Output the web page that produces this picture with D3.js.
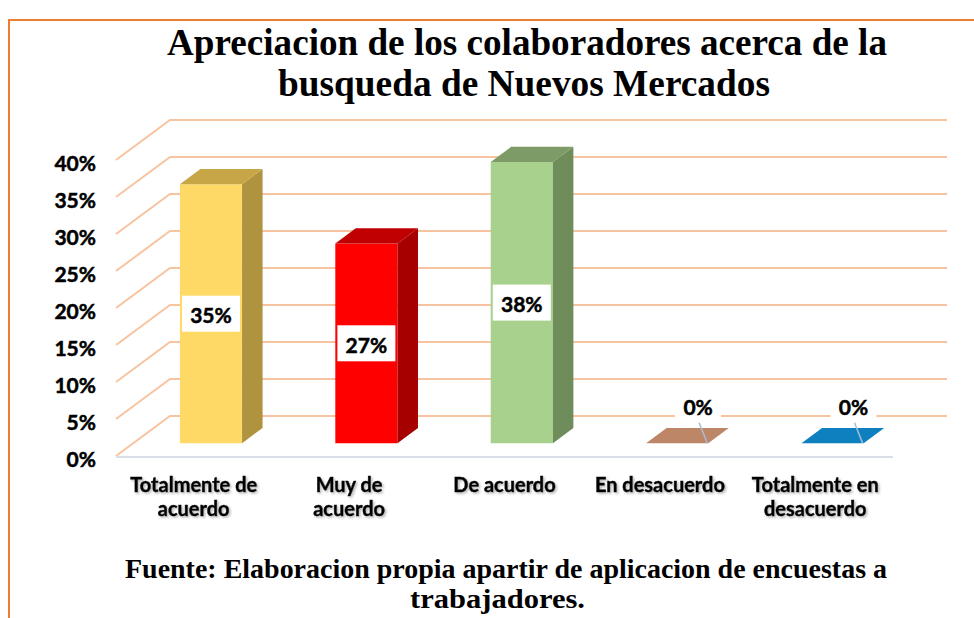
<!DOCTYPE html>
<html>
<head>
<meta charset="utf-8">
<script src="https://cdn.jsdelivr.net/npm/d3@7"></script>
<style>
  html, body { margin: 0; padding: 0; background: #fff; }
  svg { display: block; }
  .heavy { font-family: Lato, 'Open Sans', sans-serif; font-weight: bold; stroke: #000; stroke-width: 0.5px; }
</style>
</head>
<body>
<div id="chart"></div>
<script>
// data
const categories = ["Totalmente de acuerdo", "Muy de acuerdo", "De acuerdo", "En desacuerdo", "Totalmente en desacuerdo"];
const categoryLines = [["Totalmente de", "acuerdo"], ["Muy de", "acuerdo"], ["De acuerdo"], ["En desacuerdo"], ["Totalmente en", "desacuerdo"]];
const values = [0.35, 0.27, 0.38, 0, 0];
const yTicks = [0, 0.05, 0.10, 0.15, 0.20, 0.25, 0.30, 0.35, 0.40];

// front / side / top colours per bar
const barColors = [
    { front: "#FFD966", side: "#B0933F", top: "#C6A647" },
    { front: "#FF0000", side: "#A60000", top: "#C00000" },
    { front: "#A9D18E", side: "#6F8C5B", top: "#7C9B66" },
    { front: "#BD8667", side: "#8F6048", top: "#BD8667" },
    { front: "#0E80BF", side: "#0B5E8C", top: "#0E80BF" }
];

const width = 974, height = 618;
const DX = 54, DY = 40;      // depth offset of the back wall
const d0 = 0.32, d1 = 0.70;  // bar depth span

const svg = d3.select("#chart").append("svg")
    .attr("width", width)
    .attr("height", height);

const defs = svg.append("defs");
defs.append("filter").attr("id", "shadow")
    .attr("x", "-10%").attr("y", "-30%").attr("width", "130%").attr("height", "160%")
    .append("feDropShadow")
    .attr("dx", 1.5).attr("dy", 1.5).attr("stdDeviation", 1.2)
    .attr("flood-color", "#777").attr("flood-opacity", 0.55);

// frame
svg.append("rect")
    .attr("x", 9).attr("y", 20)
    .attr("width", 1000).attr("height", 700)
    .attr("fill", "none")
    .attr("stroke", "#ED7D31")
    .attr("stroke-width", 2);

// title
const title = svg.append("g")
    .style("font-family", "'Liberation Serif', 'Times New Roman', serif")
    .style("font-weight", "bold")
    .style("font-size", "37px")
    .attr("fill", "#000");
title.append("text").attr("x", 167).attr("y", 55)
    .attr("textLength", 720).attr("lengthAdjust", "spacingAndGlyphs")
    .text("Apreciacion de los colaboradores acerca de la");
title.append("text").attr("x", 278).attr("y", 96)
    .attr("textLength", 492).attr("lengthAdjust", "spacingAndGlyphs")
    .text("busqueda de Nuevos Mercados");

const x = d3.scaleBand()
    .domain(categories)
    .range([116, 893])
    .paddingInner(0.6)
    .paddingOuter(0.3);

const y = d3.scaleLinear()
    .domain([0, 0.40])
    .range([456, 160]);

const proj = (px, v, d) => [px + d * DX, y(v) - d * DY];
const poly = pts => "M" + pts.map(p => p.join(",")).join("L") + "Z";

// gridlines: diagonal on the left wall, then across the back wall
svg.append("g")
    .selectAll("path")
    .data(yTicks)
    .join("path")
    .attr("d", t => {
        const a = proj(116, t, 0), b = proj(116, t, 1), c = proj(893, t, 1);
        return "M" + a + "L" + b + "L" + c;
    })
    .attr("fill", "none")
    .attr("stroke", "#F8C3A0")
    .attr("stroke-width", 2);

// floor front edge
svg.append("line")
    .attr("x1", 116).attr("x2", 893)
    .attr("y1", y(0) + 1).attr("y2", y(0) + 1)
    .attr("stroke", "#D9DEE8")
    .attr("stroke-width", 2);

// y labels
svg.append("g")
    .selectAll("text")
    .data(yTicks)
    .join("text")
    .attr("class", "heavy")
    .attr("x", 96)
    .attr("y", t => y(t) + 2)
    .attr("text-anchor", "end")
    .attr("dominant-baseline", "central")
    .style("font-size", "21px")
    .text(t => Math.round(t * 100) + "%");

// bars
const bars = svg.append("g")
    .selectAll("g")
    .data(values.map((v, i) => ({ cat: categories[i], v, c: barColors[i] })))
    .join("g");

bars.each(function (d) {
    const g = d3.select(this);
    const x0 = x(d.cat), x1 = x(d.cat) + x.bandwidth();
    if (d.v > 0) {
        g.append("path")
            .attr("d", poly([proj(x0, 0, d0), proj(x0, d.v, d0), proj(x1, d.v, d0), proj(x1, 0, d0)]))
            .attr("fill", d.c.front);
        g.append("path")
            .attr("d", poly([proj(x1, 0, d0), proj(x1, d.v, d0), proj(x1, d.v, d1), proj(x1, 0, d1)]))
            .attr("fill", d.c.side);
    }
    g.append("path")
        .attr("d", poly([proj(x0, d.v, d0), proj(x1, d.v, d0), proj(x1, d.v, d1), proj(x0, d.v, d1)]))
        .attr("fill", d.c.top);
});

// data labels
bars.each(function (d) {
    const g = d3.select(this);
    const x0 = x(d.cat), x1 = x(d.cat) + x.bandwidth();
    const label = Math.round(d.v * 100) + "%";
    let cx, cy, w, h;
    if (d.v > 0) {
        const p = proj((x0 + x1) / 2, d.v / 2, d0);
        cx = p[0]; cy = p[1]; w = 58; h = 36;
    } else {
        const p = proj(x0, 0, d0);
        cx = p[0] + 52; cy = p[1] - 38; w = 46; h = 25;
        const q = proj(x1, 0, d0);
        g.append("line")
            .attr("x1", cx + 1).attr("y1", cy + h / 2 + 5)
            .attr("x2", q[0] - 1).attr("y2", q[1])
            .attr("stroke", "#A6BDD7")
            .attr("stroke-width", 1.5);
    }
    g.append("rect")
        .attr("x", cx - w / 2).attr("y", cy - h / 2)
        .attr("width", w).attr("height", h)
        .attr("fill", "#fff");
    g.append("text")
        .attr("class", "heavy")
        .attr("x", cx).attr("y", cy + 1)
        .attr("text-anchor", "middle")
        .attr("dominant-baseline", "central")
        .style("font-size", "21px")
        .text(label);
});

// category labels
svg.append("g")
    .attr("filter", "url(#shadow)")
    .selectAll("text")
    .data(categories)
    .join("text")
    .attr("class", "heavy")
    .attr("x", c => x(c) + x.bandwidth() / 2)
    .attr("y", 492)
    .attr("text-anchor", "middle")
    .style("font-size", "20px")
    .each(function (c, i) {
        d3.select(this).selectAll("tspan")
            .data(categoryLines[i])
            .join("tspan")
            .attr("x", x(c) + x.bandwidth() / 2)
            .attr("dy", (l, j) => j === 0 ? 0 : 24)
            .text(l => l);
    });

// source note
const note = svg.append("g")
    .style("font-family", "'Liberation Serif', 'Times New Roman', serif")
    .style("font-weight", "bold")
    .style("font-size", "28px");
note.append("text").attr("x", 125).attr("y", 578)
    .attr("textLength", 762).attr("lengthAdjust", "spacingAndGlyphs")
    .text("Fuente: Elaboracion propia apartir de aplicacion de encuestas a");
note.append("text").attr("x", 410).attr("y", 608)
    .attr("textLength", 175).attr("lengthAdjust", "spacingAndGlyphs")
    .text("trabajadores.");
</script>
</body>
</html>
